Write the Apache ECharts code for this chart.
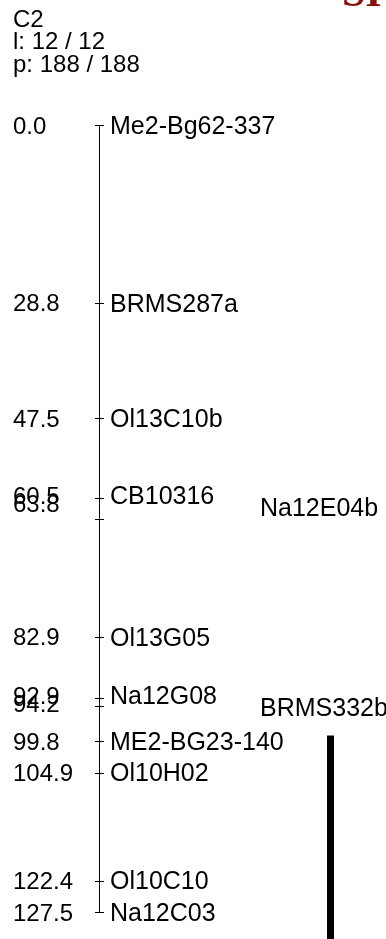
<!DOCTYPE html>
<html><head><meta charset="utf-8">
<script src="https://cdn.jsdelivr.net/npm/echarts@6/dist/echarts.min.js"></script>
<style>html,body{margin:0;padding:0;background:#fff;overflow:hidden}#c{width:386px;height:939px}</style>
</head><body><div id="c"></div>
<script>
// ---- data ----
const mapName = 'C2';
const locusCount = 'l: 12 / 12';
const pointCount = 'p: 188 / 188';
const headerTitle = 'SI';
const positions = [0.0, 28.8, 47.5, 60.5, 63.8, 82.9, 92.9, 94.2, 99.8, 104.9, 122.4, 127.5];
const markers = ['Me2-Bg62-337', 'BRMS287a', 'Ol13C10b', 'CB10316', 'Na12E04b', 'Ol13G05',
                 'Na12G08', 'BRMS332b', 'ME2-BG23-140', 'Ol10H02', 'Ol10C10', 'Na12C03'];
const qtlStart = 98.9;
const qtlEnd = 132;

// ---- style ----
const FONT = 'Liberation Sans, Arial, sans-serif';
const FS = 24, FS_NAME = 25;
const LINE_X = 99, TICK_HALF = 4, NUM_X = 13, NAME_X = 110, NAME_X2 = 260;
const TEXT_DY = 2;
const CLOSE = 5;

const chart = echarts.init(document.getElementById('c'), null, {renderer: 'canvas'});

function labelY(api, i) {
  const y = api.coord([0, positions[i]])[1] + TEXT_DY;
  const nextClose = i + 1 < positions.length && positions[i + 1] - positions[i] < CLOSE;
  const prevClose = i > 0 && positions[i] - positions[i - 1] < CLOSE;
  if (prevClose) {
    const py = api.coord([0, positions[i - 1]])[1] + TEXT_DY - 3;
    return {num: py + 8, name: py + 12, nameX: NAME_X2};
  }
  if (nextClose) return {num: y - 3, name: y - 3, nameX: NAME_X};
  return {num: y, name: y, nameX: NAME_X};
}

const markerData = positions.map((p, i) => [0, p, i]);

const option = {
  animation: false,
  grid: {left: 0, right: 0, top: 125, bottom: 27},
  xAxis: {type: 'value', min: 0, max: 1, show: false},
  yAxis: {type: 'value', min: 0, max: 127.5, inverse: true, show: false},
  graphic: [
    {type: 'text', left: 13, top: 8, style: {text: mapName, font: FS + 'px ' + FONT, fill: '#000'}},
    {type: 'text', left: 13, top: 30, style: {text: locusCount, font: FS + 'px ' + FONT, fill: '#000'}},
    {type: 'text', left: 13, top: 53, style: {text: pointCount, font: FS + 'px ' + FONT, fill: '#000'}},
    {type: 'text', left: 342, top: -26, style: {text: headerTitle, font: 'bold 42px "Liberation Serif", "DejaVu Serif", serif', fill: '#8b0f0f'}}
  ],
  series: [
    {
      type: 'custom',
      silent: true,
      data: [[0, positions[0], positions[positions.length - 1]]],
      renderItem: function (params, api) {
        const a = api.coord([0, api.value(1)]);
        const b = api.coord([0, api.value(2)]);
        return {type: 'line', shape: {x1: LINE_X + 0.5, y1: a[1], x2: LINE_X + 0.5, y2: b[1]},
                style: {stroke: '#000', lineWidth: 1}};
      }
    },
    {
      type: 'custom',
      silent: true,
      clip: false,
      data: [[0, qtlStart, qtlEnd]],
      renderItem: function (params, api) {
        const a = api.coord([0, api.value(1)]);
        const b = api.coord([0, api.value(2)]);
        return {type: 'rect', shape: {x: 327, y: a[1], width: 7, height: b[1] - a[1]},
                style: {fill: '#000'}};
      }
    },
    {
      type: 'custom',
      silent: true,
      data: markerData,
      renderItem: function (params, api) {
        const i = api.value(2);
        const y = Math.round(api.coord([0, api.value(1)])[1]) + 0.5;
        const L = labelY(api, i);
        return {
          type: 'group',
          children: [
            {type: 'line', shape: {x1: LINE_X - TICK_HALF, y1: y, x2: LINE_X + TICK_HALF + 1, y2: y},
             style: {stroke: '#000', lineWidth: 1}},
            {type: 'text', x: NUM_X, y: L.num,
             style: {text: positions[i].toFixed(1), font: FS + 'px ' + FONT, fill: '#000',
                     verticalAlign: 'middle', align: 'left'}},
            {type: 'text', x: L.nameX, y: L.name,
             style: {text: markers[i], font: FS_NAME + 'px ' + FONT, fill: '#000',
                     verticalAlign: 'middle', align: 'left'}}
          ]
        };
      }
    }
  ]
};
chart.setOption(option);
</script>
</body></html>
